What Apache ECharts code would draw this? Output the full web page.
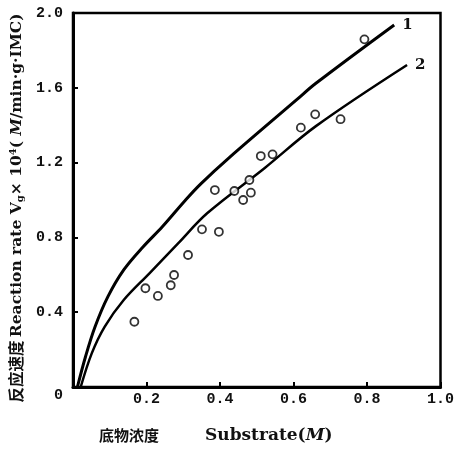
<!DOCTYPE html>
<html><head><meta charset="utf-8">
<script src="https://cdn.jsdelivr.net/npm/echarts@6/dist/echarts.min.js"></script>
<style>html,body{margin:0;padding:0;background:#fff}#c{width:457px;height:452px}</style>
</head><body><div id="c"></div><script>
// Observed data points (substrate M, rate x10^4)
const obsX = [0.167,0.197,0.231,0.266,0.275,0.313,0.351,0.397,0.386,0.439,0.463,0.480,0.484,0.511,0.543,0.620,0.659,0.728,0.793];
const obsY = [0.349,0.528,0.487,0.544,0.599,0.706,0.843,0.830,1.053,1.048,1.000,1.107,1.039,1.235,1.244,1.387,1.458,1.432,1.859];
// Curve 1
const c1X = [0.012,0.034,0.060,0.095,0.138,0.191,0.243,0.304,0.347,0.426,0.608,0.661,0.874];
const c1Y = [0.000,0.162,0.322,0.483,0.626,0.750,0.857,0.995,1.085,1.228,1.535,1.624,1.936];
// Curve 2
const c2X = [0.021,0.051,0.086,0.138,0.208,0.286,0.365,0.521,0.661,0.909];
const c2Y = [0.000,0.180,0.322,0.465,0.608,0.768,0.929,1.170,1.395,1.722];
const curveNames = ['1','2'];
const xTickLabels = ['0.2','0.4','0.6','0.8','1.0'];
const yTickLabels = ['0','0.4','0.8','1.2','1.6','2.0'];

const zip = (a,b)=>a.map((v,i)=>[v,b[i]]);
const chart = echarts.init(document.getElementById('c'), null, {renderer:'canvas'});
const numFont = {fontFamily:'Liberation Mono', fontWeight:'bold', fontSize:15, color:'#111'};
const serifB = {fontFamily:'DejaVu Serif', fontWeight:'bold', color:'#111'};
chart.setOption({
  backgroundColor:'#fff',
  animation:false,
  grid:{left:67,right:7,top:13,bottom:65,show:true,borderColor:'#000',borderWidth:2.5},
  xAxis:{
    type:'value', min:0, max:1.0, interval:0.2,
    axisLine:{show:true,onZero:false,lineStyle:{color:'#000',width:3}},
    axisTick:{show:true,inside:true,length:5,lineStyle:{color:'#000',width:2}},
    splitLine:{show:false},
    axisLabel:Object.assign({margin:5, formatter:v=>{const s=v.toFixed(1);return xTickLabels.includes(s)?s:'';}}, numFont),
    name:'{c|底物浓度}{g|}{m|Substrate(}{i|M}{m|)}',
    nameLocation:'middle', nameGap:40,
    nameTextStyle:{padding:[0,82,0,0],
      rich:{c:{fontFamily:'Noto Sans CJK SC',fontWeight:'bold',fontSize:15,color:'#111'},
            g:{width:46},
            m:Object.assign({fontSize:17},serifB),
            i:Object.assign({fontSize:17,fontStyle:'italic'},serifB)}}
  },
  yAxis:{
    type:'value', min:0, max:2.0, interval:0.4,
    axisLine:{show:true,lineStyle:{color:'#000',width:3}},
    axisTick:{show:true,inside:true,length:5,lineStyle:{color:'#000',width:2}},
    splitLine:{show:false},
    axisLabel:Object.assign({margin:10, formatter:v=>{const s=v===0?'0':v.toFixed(1);return yTickLabels.includes(s)?(v===0?'{z|0}':s):'';},
      rich:{z:{fontFamily:'Liberation Mono',fontWeight:'bold',fontSize:15,color:'#111',padding:[16,0,0,0]}}}, numFont),
    name:'{c|反应速度} {b|Reaction rate V}{s|g}{b|× 10}{p|4}{b|( }{i|M}{b|/min·g·IMC)}',
    nameLocation:'middle', nameRotate:90, nameGap:48,
    nameTextStyle:{padding:[0,16,0,0],
      rich:{c:{fontFamily:'Noto Sans CJK SC',fontWeight:'bold',fontSize:15.5,color:'#111'},
            b:Object.assign({fontSize:15.5},serifB),
            s:Object.assign({fontSize:10,padding:[7,0,0,0]},serifB),
            p:Object.assign({fontSize:10,padding:[0,0,7,0]},serifB),
            i:Object.assign({fontSize:15.5,fontStyle:'italic'},serifB)}}
  },
  series:[
    {type:'line', data:zip(c1X,c1Y), smooth:0.35, showSymbol:false,
     lineStyle:{color:'#000',width:3},
     endLabel:{show:true, formatter:curveNames[0], distance:8, fontFamily:'DejaVu Serif', fontWeight:'bold', fontSize:15, color:'#111'}},
    {type:'line', data:zip(c2X,c2Y), smooth:0.35, showSymbol:false,
     lineStyle:{color:'#000',width:2.5},
     endLabel:{show:true, formatter:curveNames[1], distance:8, fontFamily:'DejaVu Serif', fontWeight:'bold', fontSize:15, color:'#111'}},
    {type:'scatter', data:zip(obsX,obsY), symbol:'circle', symbolSize:8,
     itemStyle:{color:'#fff',borderColor:'#000',borderWidth:1.8}, z:5}
  ]
});
</script></body></html>
